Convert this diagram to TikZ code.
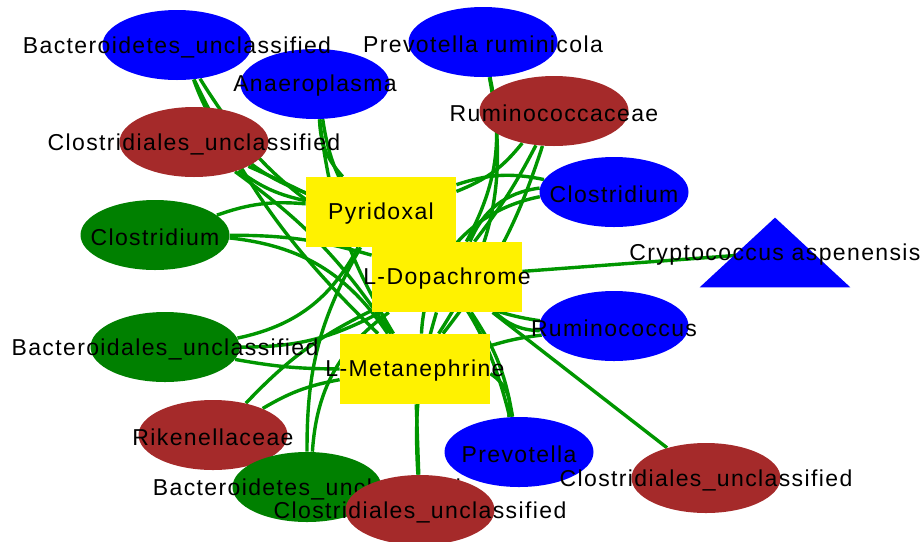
\documentclass[tikz,border=0pt]{standalone}
\usepackage{fontspec}
\setmainfont{Liberation Sans}[LetterSpace=6]
\usetikzlibrary{shapes}
\usetikzlibrary{backgrounds}
\definecolor{taxblue}{RGB}{0,0,255}
\definecolor{taxbrown}{RGB}{165,42,42}
\definecolor{taxgreen}{RGB}{0,128,0}
\definecolor{linkgreen}{RGB}{0,150,0}
\tikzset{taxon/.style={ellipse, minimum width=74.5pt, minimum height=35pt, inner sep=0pt, fill=#1}}
\tikzset{metab/.style={rectangle, fill=yellow, minimum width=75pt, minimum height=35pt, inner sep=0pt}}
\tikzset{lbl/.style={font=\fontsize{11.5}{13}\selectfont, text=black, inner sep=0pt, yshift=-1pt}}
\tikzset{link/.style={draw=linkgreen, line width=1.7pt}}

\begin{document}
\begin{tikzpicture}[x=0.5pt, y=-0.5pt]
    \useasboundingbox (0,0) rectangle (924,541);

    % ------- Start Taxa ------- %
    \node [taxon=taxblue, label={[lbl]center:Anaeroplasma}] (ana) at (315,84) {};
    \node [taxon=taxblue, label={[lbl]center:Bacteroidetes\_unclassified}] (bua) at (177,45) {};
    \node [taxon=taxblue, label={[lbl]center:Prevotella ruminicola}] (pru) at (483,42) {};
    \node [taxon=taxbrown, label={[lbl]center:Ruminococcaceae}] (rca) at (554,111) {};
    \node [taxon=taxbrown, label={[lbl]center:Clostridiales\_unclassified}] (cua) at (194,142) {};
    \node [taxon=taxblue, label={[lbl]center:Clostridium}] (clb) at (614,192) {};
    \node [taxon=taxgreen, label={[lbl]center:Clostridium}] (clg) at (155,235) {};
    \node [taxon=taxblue, label={[lbl]center:Ruminococcus}] (rmc) at (614,326) {};
    \node [taxon=taxgreen, label={[lbl]center:Bacteroidales\_unclassified}] (bdu) at (165,347) {};
    \node [taxon=taxbrown, label={[lbl]center:Rikenellaceae}] (rik) at (213,435) {};
    \node [taxon=taxblue, label={[lbl]center:Prevotella}] (prv) at (519,452) {};
    \node [taxon=taxgreen, label={[lbl]center:Bacteroidetes\_unclassified}] (bub) at (307,487) {};
    \node [taxon=taxbrown, label={[lbl]center:Clostridiales\_unclassified}] (cub) at (420,510) {};
    \node [taxon=taxbrown, label={[lbl]center:Clostridiales\_unclassified}] (cuc) at (706,478) {};

    % The triangle for the yeast.
    \node [minimum width=75pt, minimum height=34.5pt, inner sep=0pt] (cry) at (775,252.5) {};
    \fill [taxblue] (cry.north) -- (cry.south east) -- (cry.south west) -- cycle;
    \node [lbl] (cryLabel) at (cry) {Cryptococcus aspenensis};
    % ------- End Taxa ------- %

    % ------- Start Metabolites ------- %
    \node [metab, label={[lbl]center:Pyridoxal}] (pyr) at (381,212) {};
    \node [metab, label={[lbl]center:L-Dopachrome}] (dop) at (447,277) {};
    \node [metab, label={[lbl]center:L-Metanephrine}] (met) at (415,369) {};
    % ------- End Metabolites ------- %

    % The links, kept under the nodes.
    \begin{scope}[on background layer]
        \draw [link] (bua) to[bend right=25] (pyr);
        \draw [link] (bua) to[bend right=15] (dop);
        \draw [link] (bua) to[bend right=10] (met);

        \draw [link] (ana) to[bend right=20] (pyr);
        \draw [link] (ana) to[bend right=22] (dop);
        \draw [link] (ana) to[bend right=12] (met);

        \draw [link] (cua) to[bend right=12] (pyr);
        \draw [link] (cua) to[bend left=4] (dop);
        \draw [link] (cua) to[bend left=10] (met);

        \draw [link] (clg) to[bend left=12] (pyr);
        \draw [link] (clg) to[bend left=8] (dop);
        \draw [link] (clg) to[bend left=25] (met);

        \draw [link] (pru) to[bend left=20] (dop);
        \draw [link] (pru) to[bend left=22] (met);

        \draw [link] (rca) to[bend left=15] (pyr);
        \draw [link] (rca) to[bend left=5] (dop);
        \draw [link] (rca) to[bend left=10] (met);

        \draw [link] (clb) to[bend right=15] (pyr);
        \draw [link] (clb) to[bend right=30] (dop);
        \draw [link] (clb) to[bend right=38] (met);

        \draw [link] (dop) -- (cry.center);

        \draw [link] (rmc) to[bend left=22] (pyr);
        \draw [link] (rmc) to[bend left=20] (dop);
        \draw [link] (rmc) to[bend right=5] (met);

        \draw [link] (cuc) -- (dop);

        \draw [link] (prv) to[bend right=15] (pyr);
        \draw [link] (prv) to[bend right=12] (dop);
        \draw [link] (prv) to[bend right=35] (met);

        \draw [link] (cub) to[bend left=10] (dop);
        \draw [link] (cub) -- (met);

        \draw [link] (bub) to[bend left=15] (pyr);
        \draw [link] (bub) to[bend left=25] (dop);

        \draw [link] (rik) to[bend left=10] (dop);
        \draw [link] (rik) to[bend left=10] (met);

        \draw [link] (bdu) to[bend right=25] (pyr);
        \draw [link] (bdu) to[bend right=14] (dop);
        \draw [link] (bdu) to[bend right=5] (met);
    \end{scope}
\end{tikzpicture}
\end{document}
